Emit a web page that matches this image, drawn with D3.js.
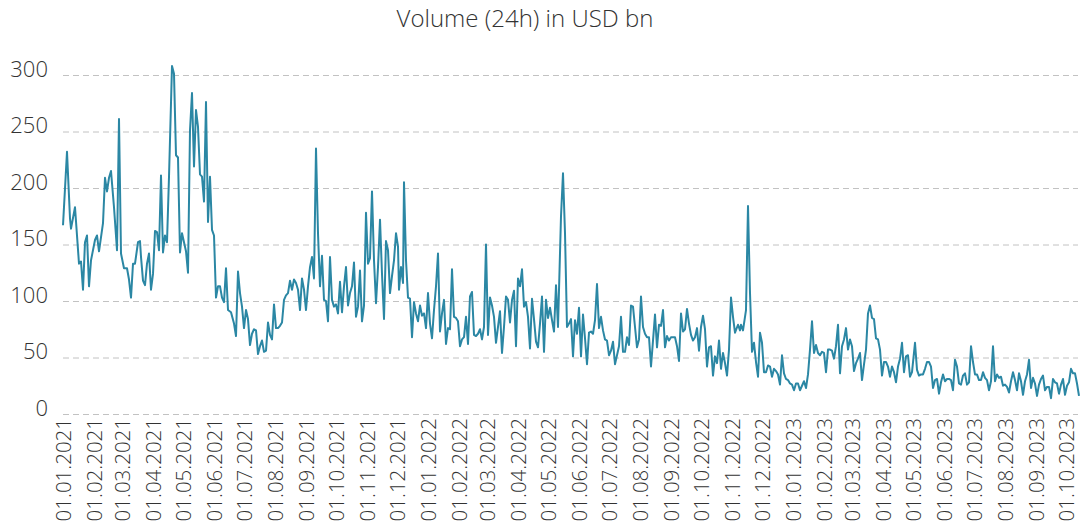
<!DOCTYPE html>
<html>
<head>
<meta charset="utf-8">
<script src="https://cdn.jsdelivr.net/npm/d3@7"></script>
<style>
  body { margin: 0; background: #fff; }
  svg text { font-family: "Open Sans", "Segoe UI", sans-serif; font-weight: 300; fill: #333; }
</style>
</head>
<body>
<script>
// Days since 01.01.2021 and traded volume (USD bn)
const startDate = new Date(2021, 0, 1);

const dayIndex = [
  0, 4, 7, 8, 12, 16, 18, 20, 22, 24, 26, 28, 32, 34, 36, 40, 42, 44, 46, 48,
  51, 54, 56, 58, 61, 64, 66, 68, 70, 72, 75, 77, 78, 80, 82, 84, 86, 88, 90, 92,
  94, 96, 98, 100, 102, 104, 106, 109, 111, 113, 115, 117, 119, 121, 123, 125, 127, 129, 131, 133,
  135, 137, 139, 141, 143, 145, 147, 149, 151, 153, 155, 157, 159, 161, 163, 165, 168, 171, 173, 175,
  177, 179, 181, 183, 185, 187, 189, 191, 193, 195, 197, 199, 201, 203, 205, 207, 209, 211, 213, 215,
  217, 219, 221, 223, 225, 227, 229, 231, 233, 235, 237, 239, 241, 243, 245, 247, 249, 251, 253, 255,
  257, 259, 261, 263, 265, 267, 269, 271, 273, 275, 277, 279, 281, 283, 285, 287, 289, 291, 293, 295,
  297, 299, 301, 303, 305, 307, 309, 311, 313, 315, 317, 319, 321, 323, 325, 327, 329, 331, 333, 335,
  336, 338, 340, 341, 343, 345, 347, 349, 351, 353, 355, 357, 359, 361, 363, 365, 367, 369, 371, 373,
  375, 377, 379, 381, 383, 385, 387, 389, 391, 393, 395, 397, 399, 401, 403, 405, 407, 409, 411, 413,
  415, 417, 419, 421, 423, 425, 427, 429, 431, 433, 435, 437, 439, 441, 443, 445, 447, 449, 451, 453,
  455, 457, 459, 461, 463, 465, 467, 469, 471, 473, 475, 477, 479, 481, 483, 485, 487, 489, 491, 493,
  495, 498, 500, 502, 504, 506, 508, 510, 512, 514, 516, 518, 520, 522, 524, 526, 528, 530, 532, 534,
  536, 538, 540, 542, 544, 546, 548, 550, 552, 554, 556, 558, 560, 562, 564, 566, 568, 570, 572, 574,
  576, 578, 580, 582, 584, 586, 588, 590, 592, 594, 596, 598, 600, 602, 604, 606, 608, 610, 612, 614,
  616, 618, 620, 622, 624, 626, 628, 630, 632, 634, 636, 638, 640, 642, 644, 646, 648, 650, 652, 654,
  656, 658, 660, 662, 664, 666, 668, 670, 672, 675, 677, 678, 680, 683, 685, 687, 689, 691, 693, 695,
  697, 699, 701, 703, 705, 707, 709, 711, 713, 715, 717, 719, 721, 723, 725, 727, 729, 731, 733, 735,
  737, 739, 741, 743, 745, 747, 749, 751, 753, 755, 757, 759, 761, 763, 765, 767, 769, 771, 773, 775,
  777, 779, 781, 783, 785, 787, 789, 791, 793, 795, 797, 799, 801, 803, 805, 807, 809, 811, 813, 815,
  817, 819, 821, 823, 825, 827, 829, 831, 833, 835, 837, 839, 841, 843, 845, 847, 849, 852, 854, 856,
  858, 860, 862, 864, 866, 868, 870, 872, 874, 876, 878, 880, 882, 884, 886, 888, 890, 892, 894, 896,
  898, 900, 902, 904, 906, 908, 910, 912, 914, 916, 918, 920, 922, 924, 926, 928, 930, 932, 934, 936,
  938, 940, 942, 944, 946, 948, 950, 952, 954, 956, 958, 960, 962, 964, 966, 968, 970, 972, 974, 976,
  978, 980, 982, 984, 986, 988, 990, 992, 994, 996, 998, 1000, 1002, 1004, 1006, 1008, 1010, 1012, 1014, 1016
];

const volume = [
  167, 232, 173, 164, 183, 133, 135, 110, 152, 158, 113, 136, 154, 158, 144, 169, 209, 197, 209, 215,
  183, 145, 261, 142, 129, 129, 119, 103, 133, 133, 152, 153, 139, 118, 114, 133, 142, 110, 124, 162,
  161, 145, 211, 143, 158, 152, 210, 308, 301, 229, 227, 143, 160, 152, 144, 125, 251, 284, 219, 269,
  254, 212, 210, 188, 276, 170, 210, 163, 158, 103, 113, 113, 103, 99, 129, 92, 90, 80, 69, 126,
  107, 95, 76, 92, 84, 61, 71, 75, 74, 53, 60, 65, 55, 56, 81, 70, 66, 97, 76, 76,
  78, 81, 101, 105, 107, 118, 110, 119, 116, 110, 92, 120, 110, 92, 113, 130, 139, 120, 235, 160,
  113, 140, 101, 100, 82, 139, 101, 95, 97, 89, 117, 90, 113, 130, 96, 107, 113, 134, 86, 95,
  127, 82, 96, 178, 133, 138, 197, 136, 98, 130, 172, 124, 84, 153, 145, 107, 122, 136, 160, 148,
  110, 130, 116, 205, 136, 103, 102, 68, 99, 89, 82, 96, 87, 89, 76, 107, 80, 67, 92, 113,
  142, 73, 89, 101, 62, 76, 75, 128, 86, 85, 82, 60, 66, 68, 86, 62, 104, 108, 70, 69,
  71, 75, 66, 77, 150, 70, 103, 96, 86, 63, 77, 91, 54, 77, 104, 101, 81, 101, 109, 60,
  120, 113, 128, 95, 99, 86, 58, 102, 84, 64, 59, 80, 104, 55, 101, 85, 94, 83, 73, 114,
  77, 175, 213, 160, 77, 80, 84, 51, 83, 71, 94, 51, 88, 67, 44, 72, 73, 71, 83, 115,
  76, 86, 74, 66, 65, 52, 56, 64, 44, 52, 60, 86, 55, 55, 68, 61, 96, 95, 77, 59,
  66, 104, 77, 71, 68, 68, 42, 65, 88, 59, 79, 78, 92, 59, 69, 65, 68, 68, 68, 60,
  47, 89, 73, 75, 93, 80, 70, 65, 68, 76, 56, 77, 87, 75, 42, 59, 60, 34, 51, 45,
  65, 40, 54, 45, 34, 57, 103, 86, 72, 79, 74, 79, 74, 92, 184, 107, 55, 63, 46, 33,
  72, 63, 37, 37, 43, 42, 33, 40, 38, 35, 26, 52, 36, 31, 30, 27, 26, 21, 27, 27,
  21, 25, 29, 23, 35, 57, 82, 54, 61, 54, 52, 55, 54, 37, 57, 57, 56, 49, 60, 79,
  36, 60, 66, 76, 57, 66, 60, 38, 45, 49, 54, 30, 44, 57, 89, 96, 85, 84, 67, 66,
  57, 34, 46, 46, 42, 33, 42, 37, 28, 42, 49, 63, 37, 51, 52, 33, 37, 63, 39, 34,
  35, 35, 40, 46, 46, 42, 23, 30, 31, 18, 28, 35, 29, 31, 31, 30, 21, 48, 42, 27,
  26, 34, 36, 26, 28, 60, 46, 35, 35, 30, 30, 37, 32, 30, 21, 29, 60, 29, 35, 32,
  33, 25, 26, 24, 19, 29, 37, 30, 21, 36, 29, 17, 29, 35, 48, 23, 32, 27, 16, 26,
  31, 34, 21, 24, 24, 14, 31, 28, 27, 18, 26, 31, 17, 25, 28, 40, 36, 36, 27, 16, 29
];

const yTicks = [0, 50, 100, 150, 200, 250, 300];

const data = dayIndex.map((d, i) => ({ date: d3.timeDay.offset(startDate, d), value: volume[i] }));

const width = 1088, height = 529;
const margin = { top: 75, right: 10, bottom: 115, left: 63 };

const svg = d3.select("body").append("svg")
    .attr("width", width)
    .attr("height", height);

const x = d3.scaleTime()
    .domain([startDate, d3.timeDay.offset(startDate, 1015)])
    .range([margin.left, width - margin.right]);

const y = d3.scaleLinear()
    .domain([0, 300])
    .range([height - margin.bottom, margin.top]);

// Title
svg.append("text")
    .attr("x", 525)
    .attr("y", 27)
    .attr("text-anchor", "middle")
    .style("font-size", "24px")
    .text("Volume (24h) in USD bn");

// Gridlines + y labels
const yAxis = svg.append("g")
    .attr("transform", `translate(${margin.left},0)`)
    .call(d3.axisLeft(y).tickValues(yTicks).tickSize(-(width - margin.left - margin.right)).tickPadding(15));
yAxis.select(".domain").remove();
yAxis.selectAll(".tick line")
    .attr("stroke", "#c2c2c2")
    .attr("stroke-dasharray", "6,4");
yAxis.selectAll(".tick text")
    .attr("dy", "0.32em")
    .attr("transform", "translate(0,-6)")
    .style("font-size", "22px")
    .style("font-family", "'Open Sans', sans-serif");

// X axis, monthly labels rotated
const months = d3.timeMonth.range(startDate, new Date(2023, 9, 2));
const xAxis = svg.append("g")
    .attr("transform", `translate(0,${height - margin.bottom})`)
    .call(d3.axisBottom(x).tickValues(months).tickFormat(d3.timeFormat("%d.%m.%Y")).tickSize(0));
xAxis.select(".domain").remove();
xAxis.selectAll(".tick text")
    .attr("transform", "rotate(-90)")
    .attr("text-anchor", "end")
    .attr("x", -4)
    .attr("y", 0)
    .attr("dy", "0.35em")
    .style("font-size", "20.5px")
    .style("font-family", "'Open Sans', sans-serif");

// Volume line
const line = d3.line()
    .x(d => x(d.date))
    .y(d => y(d.value));

svg.append("path")
    .datum(data)
    .attr("fill", "none")
    .attr("stroke", "#2b87a4")
    .attr("stroke-width", 2)
    .attr("stroke-linejoin", "round")
    .attr("d", line);
</script>
</body>
</html>
